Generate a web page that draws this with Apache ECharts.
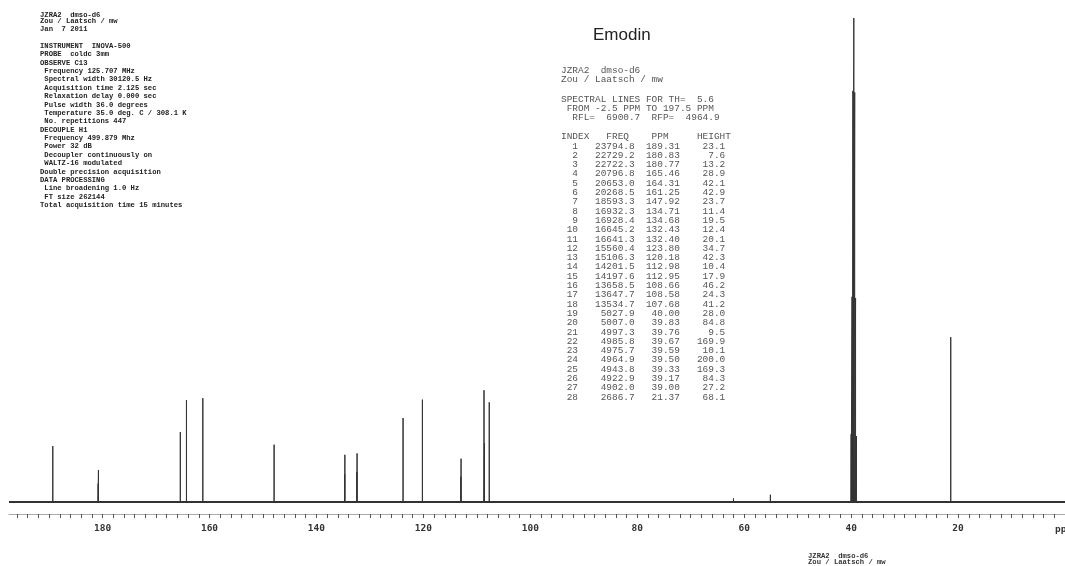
<!DOCTYPE html>
<html><head><meta charset="utf-8">
<script src="https://cdn.jsdelivr.net/npm/echarts@6/dist/echarts.min.js"></script>
<style>html,body{margin:0;padding:0;background:#fff}#c{width:1065px;height:566px}</style>
</head><body><div id="c"></div>
<script>
// ---- data ----
const peakIndex = [1,2,3,4,5,6,7,8,9,10,11,12,13,14,15,16,17,18,19,20,21,22,23,24,25,26,27,28];
const peakFreq = [23794.8,22729.2,22722.3,20796.8,20653.0,20268.5,18593.3,16932.3,16928.4,16645.2,16641.3,15560.4,15106.3,14201.5,14197.6,13658.5,13647.7,13534.7,5027.9,5007.0,4997.3,4985.8,4975.7,4964.9,4943.8,4922.9,4902.0,2686.7];
const peakPpm = [189.31,180.83,180.77,165.46,164.31,161.25,147.92,134.71,134.68,132.43,132.40,123.80,120.18,112.98,112.95,108.66,108.58,107.68,40.00,39.83,39.76,39.67,39.59,39.50,39.33,39.17,39.00,21.37];
const peakHeight = [23.1,7.6,13.2,28.9,42.1,42.9,23.7,11.4,19.5,12.4,20.1,34.7,42.3,10.4,17.9,46.2,24.3,41.2,28.0,84.8,9.5,169.9,10.1,200.0,169.3,84.3,27.2,68.1];
// small unlisted signals below the threshold
const minorPpm = [62.0, 55.1];
const minorHeight = [1.5, 3.0];
const ppmRange = [197.5, 0];
const majorTicks = [180,160,140,120,100,80,60,40,20];
const axisUnit = 'ppm';
const title = 'Emodin';
const sampleLines = ['JZRA2  dmso-d6', 'Zou / Laatsch / mw'];
const dateLine = 'Jan  7 2011';
const paramLines = [
 'INSTRUMENT  INOVA-500',
 'PROBE  coldc 3mm',
 'OBSERVE C13',
 ' Frequency 125.707 MHz',
 ' Spectral width 30120.5 Hz',
 ' Acquisition time 2.125 sec',
 ' Relaxation delay 0.000 sec',
 ' Pulse width 36.0 degrees',
 ' Temperature 35.0 deg. C / 308.1 K',
 ' No. repetitions 447',
 'DECOUPLE H1',
 ' Frequency 499.879 Mhz',
 ' Power 32 dB',
 ' Decoupler continuously on',
 ' WALTZ-16 modulated',
 'Double precision acquisition',
 'DATA PROCESSING',
 ' Line broadening 1.0 Hz',
 ' FT size 262144',
 'Total acquisition time 15 minutes'
];
const specLines = ['SPECTRAL LINES FOR TH=  5.6', ' FROM -2.5 PPM TO 197.5 PPM', '  RFL=  6900.7  RFP=  4964.9'];
const tableHeader = 'INDEX   FREQ    PPM     HEIGHT';

// ---- build spectrum trace from the peak lists ----
const allPeaks = [];
peakPpm.forEach((p, i) => allPeaks.push([p, peakHeight[i]]));
minorPpm.forEach((p, i) => allPeaks.push([p, minorHeight[i]]));
allPeaks.sort((a, b) => b[0] - a[0]);
const trace = [[ppmRange[0], 0]];
allPeaks.forEach(pk => trace.push([pk[0], 0], [pk[0], pk[1]], [pk[0], 0]));
trace.push([ppmRange[1], 0]);

const minorTicks = [];
for (let v = 196; v >= 0; v -= 2) minorTicks.push(v);

function pad(s, n) { s = String(s); while (s.length < n) s = ' ' + s; return s; }

const g = [];
const stampFont = 'bold 7.2px "Liberation Mono", "DejaVu Sans Mono", monospace';
const mono = '9.45px "Liberation Mono", "DejaVu Sans Mono", monospace';
function txt(text, x, y, font, fill) {
  g.push({type: 'text', x: x, y: y, silent: true,
    style: {text: text, font: font, fill: fill, verticalAlign: 'middle', align: 'left'}});
}
// top-left header block
txt(sampleLines[0], 40, 15, stampFont, '#222');
txt(sampleLines[1], 40, 21, stampFont, '#222');
txt(dateLine, 40, 29.5, stampFont, '#222');
paramLines.forEach((l, i) => txt(l, 40, 46 + i * 8.39, stampFont, '#222'));
// title
txt(title, 593, 35, '17px "Liberation Sans", Arial, sans-serif', '#222');
// line listing block
txt(sampleLines[0], 561, 70, mono, '#555');
txt(sampleLines[1], 561, 79.5, mono, '#555');
specLines.forEach((l, i) => txt(l, 561, 99 + i * 9, mono, '#555'));
txt(tableHeader, 561, 136.7, mono, '#555');
peakIndex.forEach((idx, i) => {
  const row = pad(idx, 3) + pad(peakFreq[i].toFixed(1), 10) + pad(peakPpm[i].toFixed(2), 8) + pad(peakHeight[i].toFixed(1), 8);
  txt(row, 561, 146 + i * 9.3, mono, '#555');
});
// bottom footer stamp
txt(sampleLines[0], 808, 556, stampFont, '#333');
txt(sampleLines[1], 808, 562, stampFont, '#333');
// axis unit (cut off at the right edge like the reference)
txt(axisUnit, 1055, 529.6, 'bold 9.5px "DejaVu Sans Mono", monospace', '#333');

const chart = echarts.init(document.getElementById('c'), null, {renderer: 'canvas'});
chart.setOption({
  animation: false,
  backgroundColor: '#fff',
  grid: {left: 9, right: -1, top: 18, bottom: 52},
  xAxis: {
    type: 'value', inverse: true, min: ppmRange[1], max: ppmRange[0],
    axisLine: {show: true, onZero: false, lineStyle: {color: '#aaa', width: 1}},
    axisTick: {show: true, customValues: minorTicks, length: 4, lineStyle: {color: '#555', width: 1}},
    axisLabel: {customValues: majorTicks, margin: 10, color: '#333',
      fontFamily: '"DejaVu Sans Mono", monospace', fontWeight: 'bold', fontSize: 9.5},
    splitLine: {show: false}
  },
  yAxis: {type: 'value', min: -4.96, max: 200, show: false, splitLine: {show: false}},
  series: [
    {type: 'line', data: [[ppmRange[0], 0], [ppmRange[1], 0]], symbol: 'none',
     lineStyle: {color: '#333', width: 2}, silent: true, z: 1},
    {type: 'line', data: trace, symbol: 'none', clip: false,
     lineStyle: {color: '#333', width: 1}, silent: true, z: 2}
  ],
  graphic: g
});
</script></body></html>
